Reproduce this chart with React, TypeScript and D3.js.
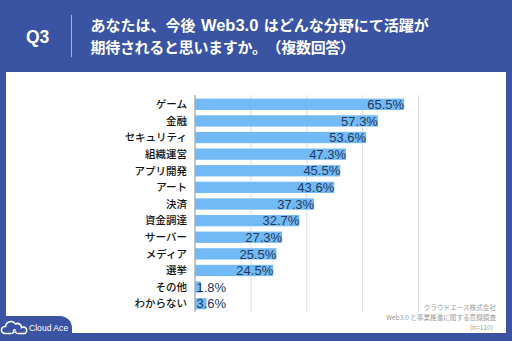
import React from "react";
import * as d3 from "d3";

const categories = ["ゲーム", "金融", "セキュリティ", "組織運営", "アプリ開発", "アート", "決済", "資金調達", "サーバー", "メディア", "選挙", "その他", "わからない"];
const values = [65.5, 57.3, 53.6, 47.3, 45.5, 43.6, 37.3, 32.7, 27.3, 25.5, 24.5, 1.8, 3.6];
const gridTicks = [0, 17.5, 35, 52.5, 70];
const titleLine1 = ["あなたは、今後 ", "Web3.0", " はどんな分野にて活躍が"];
const titleLine2 = "期待されると思いますか。（複数回答）";
const footerLines = ["クラウドエース株式会社", "Web3.0 と事業推進に関する意識調査", "(n=110)"];

const W = 512, H = 341;
const BLUE = "#3A54A3";
const BAR = "#72BAF6";
const LABEL = "#26395C";

export default function App() {
  const x = d3.scaleLinear().domain([0, 70]).range([195, 418.5]);
  const y = d3.scaleBand<string>().domain(categories).range([96, 312]).paddingInner(0.32).paddingOuter(0.16);
  const bw = y.bandwidth();
  const jp = "'Noto Sans CJK JP', 'Noto Sans', sans-serif";
  const num = "'Liberation Sans', Arial, sans-serif";
  const titleStyle = { textSpacingTrim: "space-all", wordSpacing: "2px" } as any;

  return (
    <svg width={W} height={H} style={{ position: "absolute", left: 0, top: 0 }} xmlns="http://www.w3.org/2000/svg">
      <rect x={0} y={0} width={W} height={H} fill={BLUE} />
      <rect x={6} y={72} width={500} height={261} fill="#ffffff" />
      {/* header */}
      <text x={26} y={43} fill="#fff" fontFamily={num} fontWeight={700} fontSize={17.5}>Q3</text>
      <line x1={71.5} x2={71.5} y1={15} y2={57} stroke="#A7B3D8" strokeWidth={1} />
      <text x={90.5} y={31} fill="#fff" fontFamily={jp} fontWeight={700} fontSize={15} style={titleStyle}>
        {titleLine1.map((s, i) => (
          <tspan key={i} fontFamily={i === 1 ? num : jp} fontSize={i === 1 ? 16.5 : 15}>{s}</tspan>
        ))}
      </text>
      <text x={90.5} y={53} fill="#fff" fontFamily={jp} fontWeight={700} fontSize={15} letterSpacing={-0.3} style={titleStyle}>{titleLine2}</text>
      {/* gridlines */}
      {gridTicks.map((t, i) => (
        <line key={i} x1={x(t)} x2={x(t)} y1={95} y2={312} stroke={i === 0 ? "#8a8a8a" : "#dcdcdc"} strokeWidth={1} />
      ))}
      {/* bars */}
      {categories.map((c, i) => {
        const yy = y(c)!;
        const xe = x(values[i]);
        const w = xe - x(0);
        const lbl = values[i].toFixed(1) + "%";
        const inside = w > 40;
        return (
          <g key={c}>
            <rect x={x(0)} y={yy} width={w} height={bw} fill={BAR} />
            <text x={inside ? xe : x(0) + 1.5} y={yy + bw / 2} dy="0.36em" textAnchor={inside ? "end" : "start"}
              fill={LABEL} fontFamily={num} fontSize={13}>{lbl}</text>
            <text x={187} y={yy + bw / 2} dy="0.36em" textAnchor="end" fill="#111" fontFamily={jp} fontWeight={500} fontSize={10.5}>{c}</text>
          </g>
        );
      })}
      {/* footer */}
      {footerLines.map((t, i) => (
        <text key={i} x={i === 2 ? 493 : 496} y={309.5 + i * 10} textAnchor="end" fill="#9a9a9a" fontFamily={jp} fontSize={6.6}>{t}</text>
      ))}
      {/* logo tab */}
      <path d={`M0,316 H60 A12,12 0 0 1 72,328 V341 H0 Z`} fill={BLUE} />
      <g fill="none" stroke="#fff" strokeWidth={1.6} strokeLinecap="round">
        <path d="M11,333.5 H4.5 A3.5,3.5 0 0 1 5.5,326.5 A5.5,5.5 0 0 1 15.5,324 A4,4 0 0 1 21.5,327.5 A3,3 0 0 1 25,333.5 H18" />
      </g>
      <text x={14.5} y={334} textAnchor="middle" fill="#fff" fontFamily={num} fontWeight={700} fontSize={8}>A</text>
      <text x={29} y={331} fill="#fff" fontFamily={num} fontSize={8.6}>Cloud Ace</text>
    </svg>
  );
}
